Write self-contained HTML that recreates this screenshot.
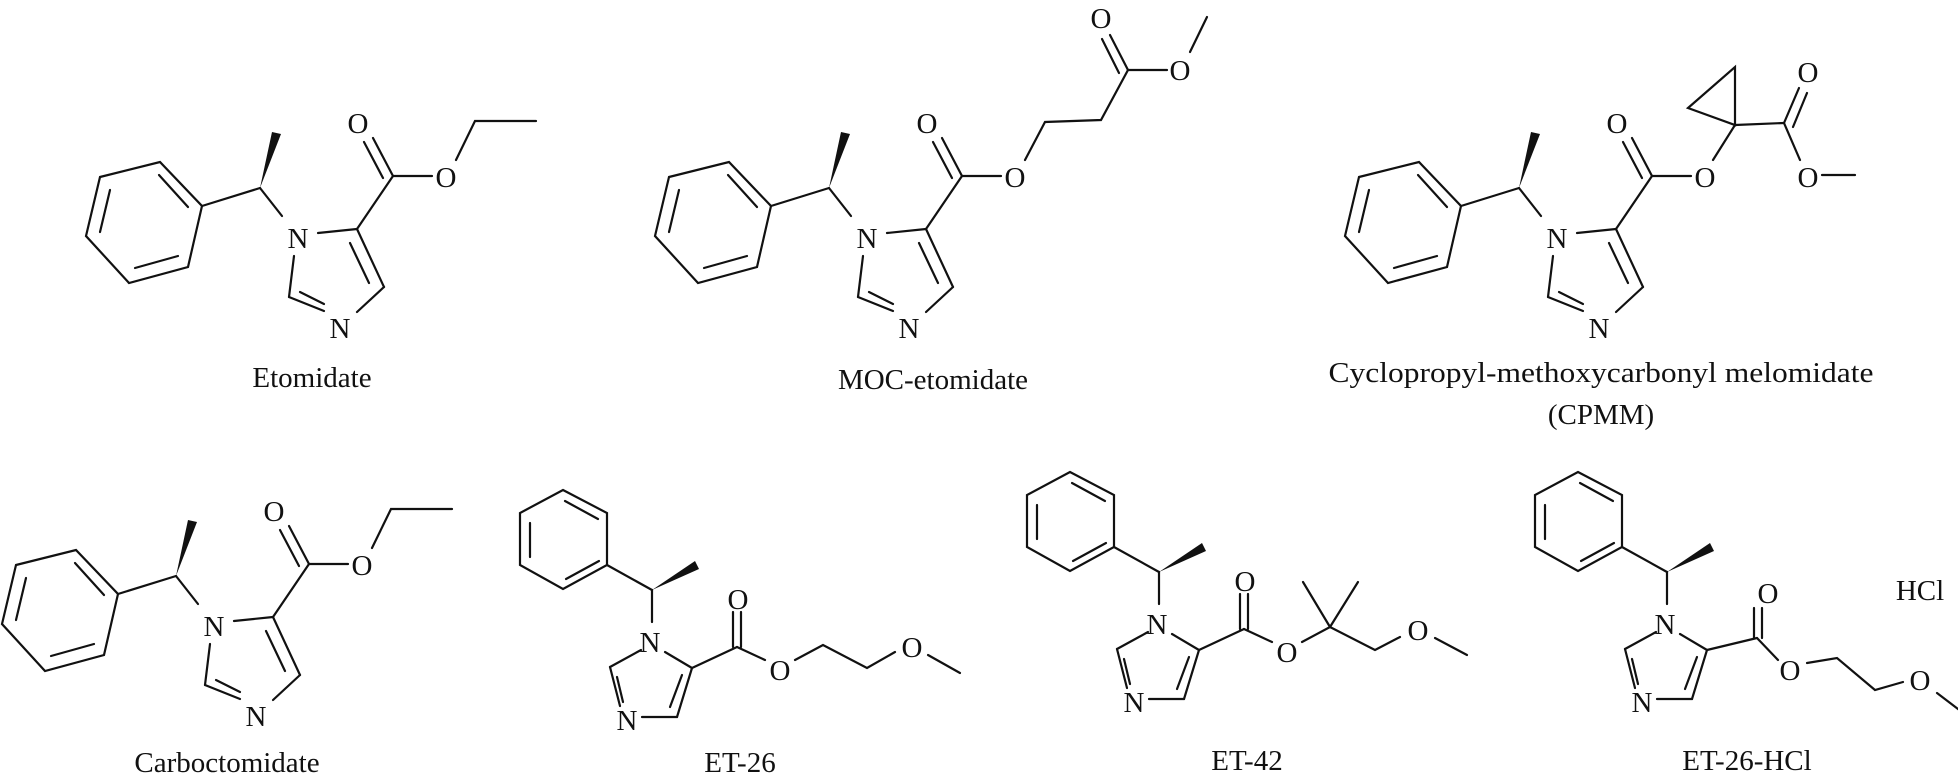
<!DOCTYPE html>
<html><head><meta charset="utf-8"><style>
html,body{margin:0;padding:0;background:#fff;}
svg{display:block}
text{font-family:"Liberation Serif",serif;font-size:29px;fill:#111;text-anchor:middle;}
line,polyline,polygon.r{stroke:#111;stroke-width:2.2;fill:none;stroke-linecap:round}
polygon.w{fill:#111;stroke:none}
</style></head><body>
<svg width="1958" height="780" viewBox="0 0 1958 780" xmlns="http://www.w3.org/2000/svg">
<defs>
<g id="coreA">
<polygon class="r" points="100,177 160,162 202,206 188,267 129,283 86,236"/>
<line x1="110" y1="190" x2="100" y2="232"/>
<line x1="159" y1="175" x2="188" y2="207"/>
<line x1="135" y1="268" x2="178" y2="256"/>
<line x1="202" y1="206" x2="260" y2="188"/>
<polygon class="w" points="260,188 272,132 281,134"/>
<line x1="260" y1="188" x2="282" y2="216"/>
<line x1="318" y1="233" x2="357" y2="229"/>
<line x1="357" y1="229" x2="384" y2="287"/>
<line x1="350" y1="243" x2="369" y2="283"/>
<line x1="384" y1="287" x2="357" y2="312"/>
<line x1="324" y1="311" x2="289" y2="297"/>
<line x1="300" y1="292" x2="324" y2="304"/>
<line x1="289" y1="297" x2="294" y2="256"/>
<line x1="357" y1="229" x2="393" y2="176"/>
<line x1="393" y1="176" x2="373" y2="138"/>
<line x1="383" y1="178" x2="364" y2="142"/>
<line x1="393" y1="176" x2="432" y2="176"/>
</g>
<g id="coreB">
<polygon class="r" points="563,490 607,513 607,565 563,589 520,565 520,513"/>
<line x1="565" y1="501" x2="598" y2="519"/>
<line x1="566" y1="579" x2="599" y2="561"/>
<line x1="530" y1="523" x2="530" y2="557"/>
<line x1="607" y1="565" x2="652" y2="590"/>
<polygon class="w" points="652,590 695,561 699,569"/>
<line x1="652" y1="590" x2="652" y2="622"/>
<line x1="665" y1="652" x2="692" y2="668"/>
<line x1="692" y1="668" x2="677" y2="717"/>
<line x1="682" y1="675" x2="670" y2="707"/>
<line x1="677" y1="717" x2="642" y2="717"/>
<line x1="620" y1="706" x2="610" y2="667"/>
<line x1="623" y1="702" x2="617" y2="677"/>
<line x1="610" y1="667" x2="641" y2="650"/>
</g>
<g id="esterB">
<line x1="692" y1="668" x2="737" y2="647"/>
<line x1="733" y1="647" x2="733" y2="612"/>
<line x1="741" y1="647" x2="741" y2="612"/>
<line x1="737" y1="647" x2="765" y2="660"/>
</g>
</defs>

<!-- Etomidate -->
<use href="#coreA"/>
<text x="298" y="248">N</text><text x="340" y="338">N</text>
<text x="358" y="133">O</text><text x="446" y="187">O</text>
<polyline points="456,160 475,121 536,121"/>
<text x="312" y="387">Etomidate</text>

<!-- MOC -->
<use href="#coreA" transform="translate(569,0)"/>
<text x="867" y="248">N</text><text x="909" y="338">N</text>
<text x="927" y="133">O</text><text x="1015" y="187">O</text>
<polyline points="1025,160 1045,122 1101,120 1128,70 1167,70"/>
<line x1="1128" y1="70" x2="1110" y2="35"/>
<line x1="1119" y1="73" x2="1102" y2="39"/>
<text x="1101" y="28">O</text><text x="1180" y="80">O</text>
<line x1="1190" y1="52" x2="1207" y2="17"/>
<text x="933" y="389">MOC-etomidate</text>

<!-- CPMM -->
<use href="#coreA" transform="translate(1259,0)"/>
<text x="1557" y="248">N</text><text x="1599" y="338">N</text>
<text x="1617" y="133">O</text><text x="1705" y="187">O</text>
<line x1="1713" y1="160" x2="1735" y2="125"/>
<polygon class="r" points="1735,125 1735,67 1688,108"/>
<line x1="1735" y1="125" x2="1784" y2="123"/>
<line x1="1784" y1="123" x2="1799" y2="88"/>
<line x1="1793" y1="127" x2="1807" y2="93"/>
<text x="1808" y="82">O</text>
<line x1="1784" y1="123" x2="1800" y2="160"/>
<text x="1808" y="187">O</text>
<line x1="1822" y1="175" x2="1855" y2="175"/>
<text x="1601" y="382" textLength="545" lengthAdjust="spacingAndGlyphs">Cyclopropyl-methoxycarbonyl melomidate</text>
<text x="1601" y="424">(CPMM)</text>

<!-- Carboctomidate -->
<use href="#coreA" transform="translate(-84,388)"/>
<text x="214" y="636">N</text><text x="256" y="726">N</text>
<text x="274" y="521">O</text><text x="362" y="575">O</text>
<polyline points="372,548 391,509 452,509"/>
<text x="227" y="772">Carboctomidate</text>

<!-- ET-26 -->
<use href="#coreB"/><use href="#esterB"/>
<text x="650" y="652">N</text><text x="627" y="730">N</text>
<text x="738" y="609">O</text><text x="780" y="680">O</text>
<polyline points="795,660 823,645 867,668 895,652"/>
<text x="912" y="657">O</text>
<line x1="928" y1="655" x2="960" y2="673"/>
<text x="740" y="772">ET-26</text>

<!-- ET-42 -->
<use href="#coreB" transform="translate(507,-18)"/><use href="#esterB" transform="translate(507,-18)"/>
<text x="1157" y="634">N</text><text x="1134" y="712">N</text>
<text x="1245" y="591">O</text><text x="1287" y="662">O</text>
<polyline points="1302,642 1330,627 1375,650 1400,637"/>
<line x1="1330" y1="627" x2="1303" y2="582"/>
<line x1="1330" y1="627" x2="1358" y2="582"/>
<text x="1418" y="640">O</text>
<line x1="1435" y1="638" x2="1467" y2="655"/>
<text x="1247" y="770">ET-42</text>

<!-- ET-26-HCl -->
<use href="#coreB" transform="translate(1015,-18)"/>
<text x="1665" y="634">N</text><text x="1642" y="712">N</text>
<line x1="1707" y1="650" x2="1757" y2="638"/>
<line x1="1754" y1="638" x2="1754" y2="608"/>
<line x1="1762" y1="638" x2="1762" y2="608"/>
<text x="1768" y="603">O</text>
<line x1="1757" y1="638" x2="1778" y2="660"/>
<text x="1790" y="680">O</text>
<polyline points="1807,663 1837,658 1875,690 1903,682"/>
<text x="1920" y="690">O</text>
<line x1="1937" y1="693" x2="1962" y2="712"/>
<text x="1920" y="600">HCl</text>
<text x="1747" y="770">ET-26-HCl</text>
</svg>
</body></html>
